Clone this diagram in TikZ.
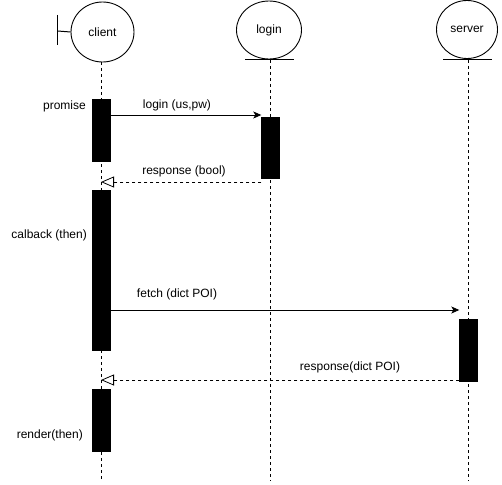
\documentclass[tikz,border=0pt]{standalone}
\usepackage{fontspec}
\setmainfont{Liberation Sans}
\usetikzlibrary{arrows.meta,shapes.geometric}
\begin{document}
\begin{tikzpicture}[x=1pt,y=-1pt,
  lbl/.style={font=\fontsize{12}{14}\selectfont, inner sep=0pt},
  actorshape/.style={draw, ellipse, inner sep=0pt, line width=0.9pt, font=\fontsize{12}{14}\selectfont},
  lifeline/.style={draw, line width=0.8pt, dash pattern=on 3pt off 3pt},
  bar/.style={draw, fill=black, rectangle, inner sep=0pt, minimum width=18pt},
  callmsg/.style={draw, line width=0.8pt, -{Stealth[length=8pt,width=7pt,inset=2pt]}},
  retmsg/.style={draw, line width=0.8pt, dash pattern=on 3pt off 3pt, -{Triangle[open,length=13pt,width=11pt]}},
  base/.style={draw, line width=1pt}]
\useasboundingbox (0,0) rectangle (502,484);

% actors
\node[actorshape, minimum width=63pt, minimum height=60pt] (client) at (102.5,32) {client};
\node[actorshape, minimum width=65pt, minimum height=58pt] (login) at (269,30) {login};
\node[actorshape, minimum width=61pt, minimum height=58pt] (server) at (467,29.5) {server};

% boundary symbol for client
\coordinate (bt) at (57.7,15);
\coordinate (bb) at (57.7,45);
\coordinate (bm) at (57.7,31);
\draw[base] (bt) -- (bb);
\draw[base] (bm) -- (client.west);

% entity underlines
\coordinate (lul) at (245,60);
\coordinate (lur) at (294,60);
\draw[base] (lul) -- (lur);
\coordinate (sul) at (443,60);
\coordinate (sur) at (492,60);
\draw[base] (sul) -- (sur);

% lifelines
\coordinate (cl0) at (101,62);
\coordinate (cl1) at (101,481);
\coordinate (ll0) at (270.5,60);
\coordinate (ll1) at (270.5,481);
\coordinate (sl0) at (468.5,60);
\coordinate (sl1) at (468.5,481);
\draw[lifeline] (cl0) -- (cl1);
\draw[lifeline] (ll0) -- (ll1);
\draw[lifeline] (sl0) -- (sl1);

% activation bars
\node[bar, minimum height=62pt] (cb1) at (101,130) {};
\node[bar, minimum height=61pt] (lb) at (270.5,147.5) {};
\node[bar, minimum height=160pt] (cb2) at (101,270) {};
\node[bar, minimum height=62pt] (sb) at (468.5,350) {};
\node[bar, minimum height=62pt] (cb3) at (101,420) {};

% messages
\coordinate (m1) at (0,115);
\draw[callmsg] (cb1.east |- m1) -- (lb.west |- m1);
\node[lbl] (m1l) at (177,105) {login (us,pw)};

\coordinate (m2) at (0,182);
\draw[retmsg] (lb.west |- m2) -- (cl0 |- m2);
\node[lbl] (m2l) at (184,171) {response (bool)};

\coordinate (m3) at (0,310);
\draw[callmsg] (cb2.east |- m3) -- (sb.west |- m3);
\node[lbl] (m3l) at (177,294) {fetch (dict POI)};

\coordinate (m4) at (0,380);
\draw[retmsg] (sb.west |- m4) -- (cl0 |- m4);
\node[lbl] (m4l) at (350,367) {response(dict POI)};

% side labels
\node[lbl, anchor=east] (p1) at (86,106) {promise};
\node[lbl, anchor=east] (p2) at (87,235) {calback (then)};
\node[lbl, anchor=east] (p3) at (83,435) {render(then)};
\end{tikzpicture}
\end{document}
